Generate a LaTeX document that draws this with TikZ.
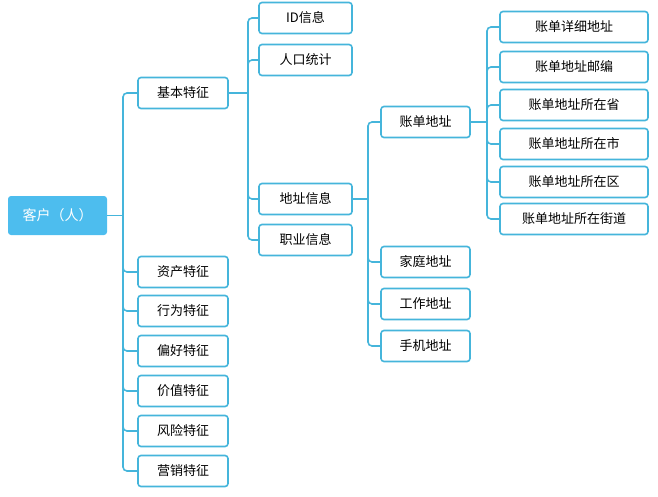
\documentclass[tikz,border=0pt]{standalone}
\usepackage{fontspec}
\setmainfont{Noto Sans CJK SC}
\begin{document}
\begin{tikzpicture}[x=1pt,y=-1pt,
 ln/.style={draw=lineC,line width=1.6pt,rounded corners=4pt},
 bx/.style={draw=lineC,line width=1.6pt,fill=white,rounded corners=3pt,minimum height=31pt,font=\fontsize{13}{15}\selectfont,text=black,inner sep=0pt},
 root/.style={fill=rootC,rounded corners=3pt,minimum width=99pt,minimum height=39pt,font=\fontsize{14}{16}\selectfont,text=white,inner sep=0pt}]
\definecolor{lineC}{HTML}{45B5DB}
\definecolor{rootC}{HTML}{4DBDEE}
\useasboundingbox (0,0) rectangle (658,497);
\node[root] (r) at (57.5,215.5) {客户（人）};
\foreach \n/\t/\y in {a/基本特征/93,b/资产特征/272,c/行为特征/311,d/偏好特征/351,e/价值特征/391,f/风险特征/431,g/营销特征/471}
 \node[bx,minimum width=90pt] (\n) at (183,\y) {\t};
\foreach \n/\t/\y in {id/ID信息/18,rk/人口统计/60,dz/地址信息/199,zy/职业信息/240}
 \node[bx,minimum width=93pt] (\n) at (305.5,\y) {\t};
\foreach \n/\t/\y in {zd/账单地址/122,jt/家庭地址/262,gz/工作地址/304,sj/手机地址/346}
 \node[bx,minimum width=89pt] (\n) at (425.5,\y) {\t};
\foreach \n/\t/\y in {p1/账单详细地址/27,p2/账单地址邮编/67,p3/账单地址所在省/105,p4/账单地址所在市/144,p5/账单地址所在区/182,p6/账单地址所在街道/219}
 \node[bx,minimum width=148pt] (\n) at (574,\y) {\t};
% level 1
\draw[ln] (r.east) -- (123,215.5);
\foreach \n in {a,b,c,d,e,f,g} \draw[ln] (123,215.5) |- (\n.west);
\draw[ln] (a.east) -- (248,93);
\foreach \n in {id,rk,dz,zy} \draw[ln] (248,93) |- (\n.west);
\draw[ln] (dz.east) -- (368,199);
\foreach \n in {zd,jt,gz,sj} \draw[ln] (368,199) |- (\n.west);
\draw[ln] (zd.east) -- (487,122);
\foreach \n in {p1,p2,p3,p4,p5,p6} \draw[ln] (487,122) |- (\n.west);
\end{tikzpicture}
\end{document}
